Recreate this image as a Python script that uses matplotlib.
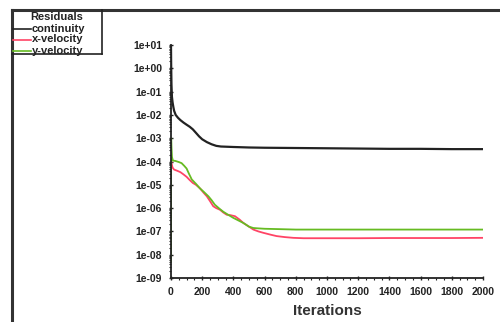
import matplotlib
matplotlib.use("Agg")
import matplotlib.pyplot as plt
from matplotlib.lines import Line2D
from matplotlib.ticker import FuncFormatter, AutoMinorLocator, LogLocator

plt.rcParams['font.family'] = ['Liberation Sans', 'DejaVu Sans']
plt.rcParams['font.weight'] = 'bold'

# residual history, read per iteration
cont_iter = [0, 1, 3, 6, 10, 15, 20, 30, 45, 60, 80, 100, 120, 140, 160, 180,
             200, 230, 260, 290, 320, 360, 400, 500, 600, 800, 1000, 1200,
             1400, 1600, 1800, 2000]
cont_res = [9, 1.5, 0.2, 0.06, 0.035, 0.022, 0.015, 0.01, 0.0075, 0.006,
            0.0047, 0.0038, 0.0031, 0.0024, 0.0017, 0.0012, 0.0009, 0.00068,
            0.00055, 0.00047, 0.00044, 0.00043, 0.00042, 0.0004, 0.00039,
            0.00038, 0.00037, 0.00036, 0.00035, 0.00035, 0.00034, 0.00034]

xvel_iter = [0, 4, 10, 20, 40, 60, 80, 100, 120, 140, 160, 186, 210, 230, 250,
             271, 290, 314, 335, 357, 380, 410, 440, 464, 500, 528, 560, 592,
             640, 677, 730, 784, 850, 1000, 1200, 1400, 1600, 1800, 2000]
xvel_res = [1.4e-4, 8e-5, 5.5e-5, 4.5e-5, 4e-5, 3.5e-5, 2.8e-5, 2.2e-5, 1.6e-5,
            1.2e-5, 1e-5, 7e-6, 4.5e-6, 3.2e-6, 2e-6, 1.2e-6, 1e-6, 8.5e-7,
            6.5e-7, 5.2e-7, 5e-7, 4.5e-7, 3.2e-7, 2.3e-7, 1.6e-7, 1.2e-7,
            1e-7, 8.7e-8, 7.2e-8, 6.3e-8, 5.7e-8, 5.3e-8, 5.1e-8, 5.1e-8,
            5.1e-8, 5.2e-8, 5.2e-8, 5.2e-8, 5.3e-8]

yvel_iter = [0, 1, 3, 6, 12, 30, 50, 68, 85, 100, 115, 133, 160, 186, 210, 240,
             260, 281, 310, 335, 370, 400, 430, 464, 500, 528, 560, 600, 700,
             800, 1000, 1200, 1400, 1600, 1800, 2000]
yvel_res = [5e-9, 1e-3, 4e-4, 1.6e-4, 1.1e-4, 1.05e-4, 9.5e-5, 8.5e-5, 6.5e-5,
            5e-5, 3e-5, 1.7e-5, 1.1e-5, 7e-6, 5e-6, 3.2e-6, 2.2e-6, 1.4e-6,
            9.5e-7, 7e-7, 5e-7, 3.8e-7, 3e-7, 2.3e-7, 1.6e-7, 1.4e-7, 1.35e-7,
            1.3e-7, 1.25e-7, 1.2e-7, 1.2e-7, 1.2e-7, 1.2e-7, 1.2e-7, 1.2e-7,
            1.2e-7]

names = ['continuity', 'x-velocity', 'y-velocity']
colors = ['#222222', '#ff4466', '#66bb22']

fig = plt.figure(figsize=(5, 3.22), dpi=100)
ax = fig.add_axes([0.342, 0.1366, 0.624, 0.7236])

ax.plot(cont_iter, cont_res, color=colors[0], lw=1.6)
ax.plot(xvel_iter, xvel_res, color=colors[1], lw=1.3)
ax.plot(yvel_iter, yvel_res, color=colors[2], lw=1.3)

ax.set_yscale('log')
ax.set_ylim(1e-9, 10)
ax.set_xlim(0, 2000)
ax.set_xticks(range(0, 2001, 200))
ax.xaxis.set_minor_locator(AutoMinorLocator(4))
ax.yaxis.set_major_locator(LogLocator(base=10, numticks=20))
ax.yaxis.set_minor_locator(LogLocator(base=10, subs=range(2, 10), numticks=20))
ax.yaxis.set_minor_formatter(FuncFormatter(lambda v, p: ''))
ax.yaxis.set_major_formatter(FuncFormatter(lambda v, p: f"{v:.0e}"))

for s in ['top', 'right']:
    ax.spines[s].set_visible(False)
for s in ['left', 'bottom']:
    ax.spines[s].set_linewidth(1.3)
    ax.spines[s].set_color('#222222')
ax.tick_params(which='major', labelsize=7.5, length=3, width=1, direction='inout',
               colors='#222222', pad=5)
ax.tick_params(which='minor', length=1.5, width=0.8, colors='#222222')
ax.set_xlabel('Iterations', fontsize=11, fontweight='bold', labelpad=5,
              color='#333333')

# outer frame and residual legend box
frame = dict(color='#333333', lw=2.2, transform=fig.transFigure)
fig.add_artist(Line2D([12/500, 12/500], [0, 1 - 10/322], **frame))
fig.add_artist(Line2D([12/500, 1], [1 - 10/322, 1 - 10/322], **frame))
box = dict(color='#222222', lw=1.2, transform=fig.transFigure)
fig.add_artist(Line2D([102/500, 102/500], [1 - 10/322, 1 - 54/322], **box))
fig.add_artist(Line2D([12/500, 102/500], [1 - 54/322, 1 - 54/322], **box))

fig.text(57/500, 1 - 17/322, 'Residuals', fontsize=8, fontweight='bold',
         ha='center', va='center', color='#222222')
for i, (n, c) in enumerate(zip(names, colors)):
    yy = 1 - (28.5 + 11*i)/322
    fig.add_artist(Line2D([13/500, 31/500], [yy, yy], color=c, lw=1.2,
                          transform=fig.transFigure))
    fig.text(32/500, yy, n, fontsize=8, fontweight='bold', ha='left',
             va='center', color='#222222')

fig.savefig('out.png', dpi=100)
